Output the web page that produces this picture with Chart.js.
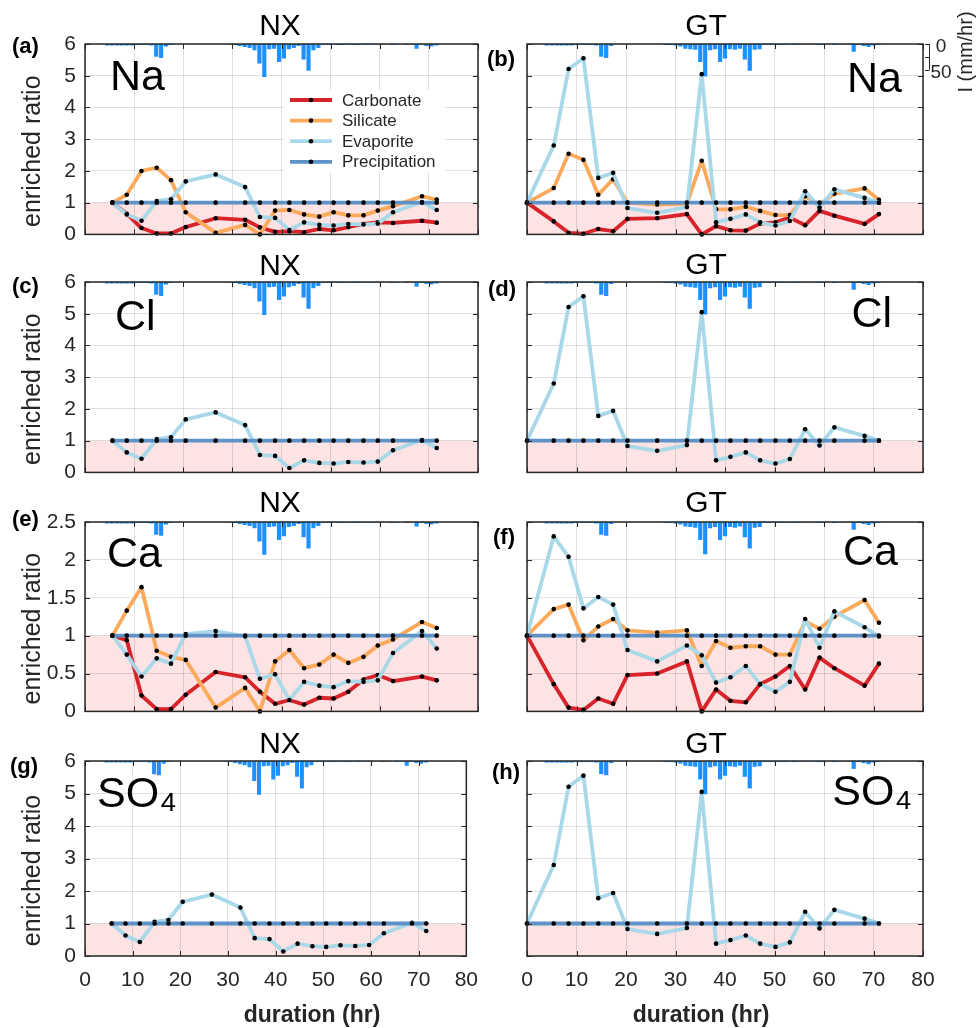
<!DOCTYPE html>
<html>
<head>
<meta charset="utf-8">
<script src="https://cdn.jsdelivr.net/npm/chart.js@4.4.1/dist/chart.umd.min.js"></script>
<style>
  body { margin: 0; background: #fff; width: 977px; height: 1028px; position: relative; overflow: hidden; }
  canvas { position: absolute; }
</style>
</head>
<body>
<canvas id="ca"></canvas><canvas id="cb"></canvas>
<canvas id="cc"></canvas><canvas id="cd"></canvas>
<canvas id="ce"></canvas><canvas id="cf"></canvas>
<canvas id="cg"></canvas><canvas id="ch"></canvas>
<script>
"use strict";

// sampling times (hr)
const timeNX = [5.6, 8.5, 11.5, 14.6, 17.5, 20.5, 26.6, 32.6, 35.6, 38.7, 41.6, 44.6, 47.7, 50.6, 53.6, 56.7, 59.6, 62.7, 68.6, 71.6];
const timeGT = [0, 5.4, 8.4, 11.4, 14.4, 17.4, 20.3, 26.3, 32.3, 35.3, 38.2, 41.1, 44.2, 47.1, 50.2, 53.1, 56.2, 59.1, 62.1, 68.2, 71.1];

// precipitation reference line (ratio = 1)
const precipNX = [1, 1, 1, 1, 1, 1, 1, 1, 1, 1, 1, 1, 1, 1, 1, 1, 1, 1, 1, 1];
const precipGT = [1, 1, 1, 1, 1, 1, 1, 1, 1, 1, 1, 1, 1, 1, 1, 1, 1, 1, 1, 1, 1];

// NX enriched ratios
const carbNaNX = [1, 0.65, 0.2, 0.03, 0.03, 0.23, 0.51, 0.46, 0.22, 0.08, 0.1, 0.07, 0.17, 0.13, 0.23, 0.33, 0.38, 0.36, 0.43, 0.37];
const silNaNX  = [1, 1.25, 2.0, 2.1, 1.71, 0.7, 0.05, 0.3, 0, 0.75, 0.77, 0.63, 0.56, 0.7, 0.6, 0.6, 0.75, 0.89, 1.2, 1.1];
const evapNX   = [1, 0.63, 0.43, 1.05, 1.11, 1.67, 1.89, 1.49, 0.55, 0.52, 0.14, 0.38, 0.30, 0.28, 0.33, 0.31, 0.34, 0.70, 1.02, 0.77];
const carbCaNX = [1, 0.94, 0.21, 0.03, 0.03, 0.22, 0.52, 0.45, 0.26, 0.10, 0.15, 0.09, 0.18, 0.17, 0.26, 0.42, 0.48, 0.40, 0.46, 0.41];
const silCaNX  = [1, 1.33, 1.64, 0.80, 0.72, 0.68, 0.05, 0.31, 0, 0.66, 0.81, 0.57, 0.62, 0.75, 0.64, 0.72, 0.87, 0.95, 1.18, 1.10];
const evapCaNX = [1, 0.75, 0.46, 0.70, 0.63, 1.02, 1.06, 0.99, 0.43, 0.49, 0.15, 0.39, 0.34, 0.32, 0.40, 0.39, 0.41, 0.77, 1.06, 0.83];

// GT enriched ratios
const carbNaGT = [1, 0.41, 0.05, 0.02, 0.17, 0.1, 0.49, 0.51, 0.64, 0, 0.26, 0.13, 0.12, 0.34, 0.38, 0.53, 0.29, 0.74, 0.59, 0.33, 0.64];
const silNaGT  = [1, 1.46, 2.54, 2.35, 1.25, 1.74, 1.0, 0.94, 0.97, 2.32, 0.79, 0.79, 0.87, 0.74, 0.61, 0.61, 1.2, 0.94, 1.28, 1.45, 1.09];
const evapGT   = [1, 2.8, 5.21, 5.55, 1.78, 1.94, 0.83, 0.68, 0.86, 5.05, 0.38, 0.49, 0.63, 0.38, 0.28, 0.42, 1.36, 0.85, 1.42, 1.15, 1.0];
const carbCaGT = [1, 0.36, 0.05, 0.02, 0.17, 0.10, 0.48, 0.50, 0.66, 0, 0.29, 0.14, 0.12, 0.36, 0.46, 0.60, 0.29, 0.71, 0.57, 0.34, 0.63];
const silCaGT  = [1, 1.35, 1.41, 0.94, 1.12, 1.22, 1.07, 1.04, 1.07, 0.60, 0.93, 0.84, 0.86, 0.86, 0.75, 0.75, 1.19, 1.09, 1.25, 1.47, 1.17];
const evapCaGT = [1, 2.31, 2.04, 1.36, 1.51, 1.41, 0.81, 0.66, 0.87, 0.74, 0.38, 0.45, 0.60, 0.36, 0.26, 0.39, 1.22, 0.84, 1.32, 1.11, 0.99];

// rainfall intensity I (mm/hr), hourly
const rainTimeNX = [4.5, 5.5, 6.5, 7.5, 8.5, 9.5, 10.5, 11.5, 12.5, 13.5, 14.5, 15.5, 16.5, 17.5,
  29.5, 30.5, 31.5, 32.5, 33.5, 34.5, 35.5, 36.5, 37.5, 38.5, 39.5, 40.5, 41.5, 42.5, 43.5, 44.5, 45.5, 46.5, 47.5,
  48.5, 49.5, 50.5, 51.5, 52.5, 53.5, 54.5, 55.5, 56.5, 57.5, 58.5, 59.5, 60.5,
  62.5, 63.5, 65.5, 66.5, 67.5, 68.5, 69.5, 70.5, 71.5];
const rainNX = [3, 3, 3, 3, 3, 3, 2, 2, 2, 3, 25, 27, 5, 2,
  1, 2, 4, 6, 8, 12, 38, 64, 10, 9, 35, 28, 10, 8, 4, 30, 52, 12, 8,
  2, 2, 1, 2, 2, 1, 2, 2, 1, 2, 1, 1, 1,
  2, 1, 2, 1, 9, 2, 4, 5, 3];
const rainTimeGT = [4, 5, 6, 7, 8, 9, 10, 11, 12, 13, 14, 15, 16, 17,
  28, 29, 30, 31, 32, 33, 34, 35, 36, 37, 38, 39, 40, 41, 42, 43, 44, 45, 46, 47,
  48, 49, 50, 51, 52, 53, 54, 55, 56, 57, 58, 59, 60,
  62, 63, 65, 66, 67, 68, 69, 70, 71];
const rainGT = [3, 3, 3, 3, 3, 3, 2, 2, 2, 2, 3, 25, 27, 4,
  2, 2, 3, 5, 9, 10, 11, 35, 63, 12, 10, 35, 28, 10, 11, 9, 30, 52, 11, 10,
  2, 2, 1, 2, 2, 1, 2, 1, 1, 1, 1, 2, 2,
  2, 1, 1, 15, 2, 4, 6, 3, 2];

// ticks
const xTicks = [0, 10, 20, 30, 40, 50, 60, 70, 80];
const yTicksRatio = [0, 1, 2, 3, 4, 5, 6];
const yTicksCa = [0, 0.5, 1, 1.5, 2, 2.5];
const rainTicks = [0, 25, 50];
const rainTickLabels = ['0', '', '50'];

const seriesNames = ['Carbonate', 'Silicate', 'Evaporite', 'Precipitation'];
const seriesColors = ['#d8232a', '#fbaa5c', '#a9d8e8', '#5f92c6'];

const FONT = '"Liberation Sans", Arial, Helvetica, sans-serif';
const ink = '#262626';
const pink = '#fde3e3';
const gridColor = 'rgba(0,0,0,0.12)';

const panels = [
  {id: 'a', col: 0, top: 44,  bottom: 240, site: 'NX', ion: 'Na',  yMax: 6,   yTicks: yTicksRatio, times: timeNX, series: [carbNaNX, silNaNX, evapNX, precipNX], rainT: rainTimeNX, rain: rainNX,
   tag: [12, 53], ionPos: [110, 90, 'left'], titleY: 35, legend: true},
  {id: 'b', col: 1, top: 44,  bottom: 240, site: 'GT', ion: 'Na',  yMax: 6,   yTicks: yTicksRatio, times: timeGT, series: [carbNaGT, silNaGT, evapGT, precipGT], rainT: rainTimeGT, rain: rainGT,
   tag: [487, 66], ionPos: [902, 92, 'right'], titleY: 35, rainAxis: true},
  {id: 'c', col: 0, top: 282, bottom: 478, site: 'NX', ion: 'Cl',  yMax: 6,   yTicks: yTicksRatio, times: timeNX, series: [null, null, evapNX, precipNX], rainT: rainTimeNX, rain: rainNX,
   tag: [12, 293], ionPos: [115, 330, 'left'], titleY: 275},
  {id: 'd', col: 1, top: 282, bottom: 478, site: 'GT', ion: 'Cl',  yMax: 6,   yTicks: yTicksRatio, times: timeGT, series: [null, null, evapGT, precipGT], rainT: rainTimeGT, rain: rainGT,
   tag: [488, 296], ionPos: [892, 327, 'right'], titleY: 274},
  {id: 'e', col: 0, top: 522, bottom: 717, site: 'NX', ion: 'Ca',  yMax: 2.5, yTicks: yTicksCa, times: timeNX, series: [carbCaNX, silCaNX, evapCaNX, precipNX], rainT: rainTimeNX, rain: rainNX,
   tag: [12, 526], ionPos: [107, 567, 'left'], titleY: 512},
  {id: 'f', col: 1, top: 522, bottom: 717, site: 'GT', ion: 'Ca',  yMax: 2.5, yTicks: yTicksCa, times: timeGT, series: [carbCaGT, silCaGT, evapCaGT, precipGT], rainT: rainTimeGT, rain: rainGT,
   tag: [493, 544], ionPos: [898, 565, 'right'], titleY: 512},
  {id: 'g', col: 0, top: 761, bottom: 956, site: 'NX', ion: 'SO\u2084', yMax: 6, yTicks: yTicksRatio, times: timeNX, series: [null, null, evapNX, precipNX], rainT: rainTimeNX, rain: rainNX,
   tag: [10, 773], ionPos: [97, 807, 'left'], titleY: 753, xLabel: 312},
  {id: 'h', col: 1, top: 761, bottom: 956, site: 'GT', ion: 'SO\u2084', yMax: 6, yTicks: yTicksRatio, times: timeGT, series: [null, null, evapGT, precipGT], rainT: rainTimeGT, rain: rainGT,
   tag: [492, 779], ionPos: [912, 805, 'right'], titleY: 753, xLabel: 701}
];

const cols = [
  {canvasLeft: 0,   canvasWidth: 490, plotLeft: 85,  plotRight: 478, titleX: 280},
  {canvasLeft: 480, canvasWidth: 497, plotLeft: 527, plotRight: 923, titleX: 706}
];

function text(ctx, s, x, y, font, align, color) {
  ctx.font = font;
  ctx.textAlign = align;
  ctx.textBaseline = 'alphabetic';
  ctx.fillStyle = color || '#000';
  ctx.fillText(s, x, y);
}

function decor(p, col, offX, offY) {
  return {
    id: 'decor' + p.id,
    beforeDraw(chart) {
      const {ctx, chartArea: a, scales} = chart;
      const y1 = scales.y.getPixelForValue(1);
      ctx.save();
      ctx.fillStyle = pink;
      ctx.fillRect(a.left, y1, a.right - a.left, a.bottom - y1);
      ctx.restore();
    },
    afterDraw(chart) {
      const {ctx, chartArea: a, scales} = chart;
      ctx.save();
      // inward tick marks
      ctx.strokeStyle = ink;
      ctx.lineWidth = 1;
      ctx.beginPath();
      xTicks.forEach(v => {
        const px = Math.round(scales.x.getPixelForValue(v)) + 0.5;
        ctx.moveTo(px, a.bottom); ctx.lineTo(px, a.bottom - 5);
        ctx.moveTo(px, a.top); ctx.lineTo(px, a.top + 5);
      });
      p.yTicks.forEach(v => {
        const py = Math.round(scales.y.getPixelForValue(v)) + 0.5;
        ctx.moveTo(a.left, py); ctx.lineTo(a.left + 5, py);
        ctx.moveTo(a.right, py); ctx.lineTo(a.right - 5, py);
      });
      ctx.stroke();
      // box
      ctx.lineWidth = 1.5;
      ctx.strokeRect(a.left, a.top, a.right - a.left, a.bottom - a.top);

      // title, panel tag, ion
      text(ctx, p.site, col.titleX - offX, p.titleY - offY, '30px ' + FONT, 'center', '#000');
      text(ctx, '(' + p.id + ')', p.tag[0] - offX, p.tag[1] - offY, 'bold 22px ' + FONT, 'left', '#000');
      text(ctx, p.ion, p.ionPos[0] - offX, p.ionPos[1] - offY, '43px ' + FONT, p.ionPos[2], '#000');

      // y label
      if (p.col === 0) {
        ctx.save();
        ctx.translate(33 - offX, (a.top + a.bottom) / 2 + 12);
        ctx.rotate(-Math.PI / 2);
        ctx.font = '25px ' + FONT;
        ctx.textAlign = 'center';
        ctx.textBaseline = 'middle';
        ctx.fillStyle = ink;
        ctx.fillText('enriched ratio', 0, 0);
        ctx.restore();
      }
      // x label
      if (p.xLabel) {
        text(ctx, 'duration (hr)', p.xLabel - offX, 1022 - offY, 'bold 23px ' + FONT, 'center', ink);
      }
      // rainfall axis bracket
      if (p.rainAxis) {
        const yp = scales.yP;
        const bx = a.right + 6;
        const y0 = yp.getPixelForValue(rainTicks[0]);
        const y2 = yp.getPixelForValue(rainTicks[rainTicks.length - 1]);
        ctx.strokeStyle = ink;
        ctx.lineWidth = 1;
        ctx.beginPath();
        ctx.moveTo(bx + 0.5, y0); ctx.lineTo(bx + 0.5, y2);
        rainTicks.forEach(v => {
          const py = Math.round(yp.getPixelForValue(v)) + 0.5;
          ctx.moveTo(bx - 4, py); ctx.lineTo(bx + 0.5, py);
        });
        ctx.stroke();
        rainTicks.forEach((v, i) => {
          if (!rainTickLabels[i]) return;
          ctx.font = '19px ' + FONT;
          ctx.textAlign = 'center';
          ctx.textBaseline = 'middle';
          ctx.fillStyle = ink;
          ctx.fillText(rainTickLabels[i], bx + 12, yp.getPixelForValue(v) + 3);
        });
        ctx.save();
        ctx.translate(966 - offX, 52 - offY);
        ctx.rotate(-Math.PI / 2);
        ctx.font = '20px ' + FONT;
        ctx.textAlign = 'center';
        ctx.textBaseline = 'middle';
        ctx.fillStyle = ink;
        ctx.fillText('I (mm/hr)', 0, 0);
        ctx.restore();
      }
      // legend
      if (p.legend) {
        const lx = a.left + 198, ly = a.top + 46;
        ctx.fillStyle = '#fff';
        ctx.fillRect(lx, ly, 162, 82);
        seriesNames.forEach((name, i) => {
          const ry = ly + 10 + i * 20.6;
          ctx.strokeStyle = seriesColors[i];
          ctx.lineWidth = 3.8;
          ctx.beginPath();
          ctx.moveTo(lx + 7, ry); ctx.lineTo(lx + 49, ry);
          ctx.stroke();
          ctx.fillStyle = '#000';
          ctx.beginPath();
          ctx.arc(lx + 28, ry, 2.3, 0, Math.PI * 2);
          ctx.fill();
          ctx.font = '17px ' + FONT;
          ctx.textAlign = 'left';
          ctx.textBaseline = 'middle';
          ctx.fillStyle = ink;
          ctx.fillText(name, lx + 59, ry + 1);
        });
      }
      ctx.restore();
    }
  };
}

panels.forEach(p => {
  const col = cols[p.col];
  const bottomRow = !!p.xLabel;
  const extra = bottomRow ? 72 : 16;
  const canvasTop = p.top - 44;
  const h = p.bottom - p.top + 44 + extra;
  const canvas = document.getElementById('c' + p.id);
  canvas.width = col.canvasWidth;
  canvas.height = h;
  canvas.style.left = col.canvasLeft + 'px';
  canvas.style.top = canvasTop + 'px';
  canvas.style.width = col.canvasWidth + 'px';
  canvas.style.height = h + 'px';

  const datasets = [];
  p.series.forEach((ys, i) => {
    if (!ys) return;
    datasets.push({
      type: 'line',
      label: seriesNames[i],
      data: p.times.map((x, k) => ({x: x, y: ys[k]})),
      borderColor: seriesColors[i],
      backgroundColor: seriesColors[i],
      borderWidth: 3.8,
      borderJoinStyle: 'round',
      borderCapStyle: 'round',
      pointRadius: 2.3,
      pointBackgroundColor: '#000',
      pointBorderWidth: 0,
      pointHoverRadius: 0,
      tension: 0,
      clip: false,
      order: 4 - i,
      yAxisID: 'y'
    });
  });
  datasets.push({
    type: 'bar',
    label: 'I',
    data: p.rainT.map((x, k) => ({x: x, y: p.rain[k]})),
    backgroundColor: 'rgb(30,144,255)',
    borderWidth: 0,
    barPercentage: 1,
    categoryPercentage: 0.85,
    order: 10,
    yAxisID: 'yP'
  });

  new Chart(canvas, {
    type: 'line',
    data: {datasets},
    options: {
      responsive: false,
      animation: false,
      devicePixelRatio: 1,
      events: [],
      layout: {padding: {left: 0, top: 44, right: col.canvasLeft + col.canvasWidth - col.plotRight, bottom: bottomRow ? 0 : extra}},
      plugins: {legend: {display: false}, tooltip: {enabled: false}, title: {display: false}},
      scales: {
        x: {
          type: 'linear', min: 0, max: 80, offset: false,
          afterBuildTicks: s => { s.ticks = xTicks.map(v => ({value: v})); },
          afterFit: s => { s.height = bottomRow ? 72 : 0; },
          grid: {color: gridColor, drawTicks: false, offset: false},
          border: {display: false},
          ticks: {display: bottomRow, padding: 12, autoSkip: false, maxRotation: 0, color: ink, font: {family: FONT, size: 21}}
        },
        y: {
          type: 'linear', min: 0, max: p.yMax,
          afterBuildTicks: s => { s.ticks = p.yTicks.map(v => ({value: v})); },
          afterFit: s => { s.width = col.plotLeft - col.canvasLeft; },
          grid: {color: gridColor, drawTicks: false},
          border: {display: false},
          ticks: {
            display: true, padding: 9, autoSkip: false,
            color: p.col === 0 ? ink : 'rgba(0,0,0,0)',
            font: {family: FONT, size: 21},
            callback: v => String(v)
          }
        },
        yP: {
          type: 'linear', display: false, reverse: true, min: 0, max: 370
        }
      }
    },
    plugins: [decor(p, col, col.canvasLeft, canvasTop)]
  });
});
</script>
</body>
</html>
